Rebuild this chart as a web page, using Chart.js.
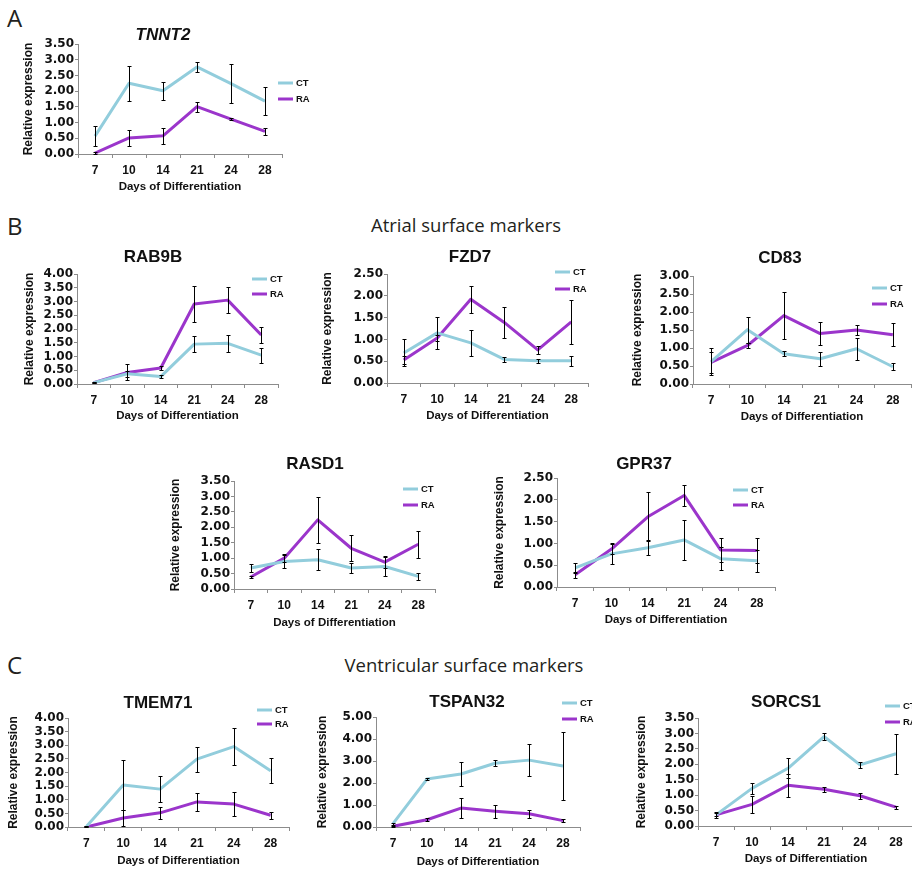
<!DOCTYPE html>
<html><head><meta charset="utf-8">
<script src="https://cdn.jsdelivr.net/npm/chart.js@4.4.1/dist/chart.umd.min.js"></script>
<style>
html,body{margin:0;padding:0;background:#fff;}
#page{position:relative;width:912px;height:869px;overflow:hidden;background:#fff;}
canvas{position:absolute;}
.lbl{position:absolute;font-family:'Open Sans','Noto Sans',sans-serif;color:#231f20;white-space:nowrap;line-height:1;}
.sec{font-size:24px;transform:translateY(-50%);}
.head{font-size:18.5px;transform:translate(-50%,-50%);}
</style></head><body><div id="page">
<div class="lbl sec" style="left:7px;top:18px;">A</div>
<div class="lbl sec" style="left:7px;top:226px;">B</div>
<div class="lbl sec" style="left:7px;top:665px;">C</div>
<div class="lbl head" style="left:466px;top:225px;">Atrial surface markers</div>
<div class="lbl head" style="left:464px;top:665px;">Ventricular surface markers</div>
</div>
<script>
// ---------- data ----------
const days = ['7','10','14','21','24','28'];

const tnnt2CT    = [0.57, 2.25, 2.01, 2.77, 2.24, 1.68];
const tnnt2CTerr = [0.33, 0.55, 0.29, 0.15, 0.62, 0.45];
const tnnt2RA    = [0.03, 0.51, 0.58, 1.51, 1.11, 0.72];
const tnnt2RAerr = [0.02, 0.25, 0.26, 0.16, 0.02, 0.10];

const rab9bCT    = [0.05, 0.37, 0.27, 1.45, 1.48, 1.05];
const rab9bCTerr = [0.02, 0.12, 0.04, 0.29, 0.31, 0.27];
const rab9bRA    = [0.05, 0.42, 0.58, 2.91, 3.05, 1.78];
const rab9bRAerr = [0.02, 0.29, 0.06, 0.67, 0.48, 0.30];

const fzd7CT     = [0.69, 1.15, 0.92, 0.54, 0.51, 0.51];
const fzd7CTerr  = [0.31, 0.37, 0.30, 0.06, 0.05, 0.12];
const fzd7RA     = [0.53, 1.03, 1.92, 1.39, 0.76, 1.40];
const fzd7RAerr  = [0.10, 0.06, 0.31, 0.36, 0.09, 0.51];

const cd83CT     = [0.62, 1.51, 0.84, 0.70, 0.98, 0.48];
const cd83CTerr  = [0.38, 0.36, 0.07, 0.20, 0.30, 0.10];
const cd83RA     = [0.60, 1.07, 1.90, 1.40, 1.50, 1.37];
const cd83RAerr  = [0.30, 0.08, 0.65, 0.32, 0.13, 0.32];

const rasd1CT    = [0.68, 0.89, 0.95, 0.68, 0.73, 0.41];
const rasd1CTerr = [0.14, 0.22, 0.35, 0.16, 0.31, 0.12];
const rasd1RA    = [0.39, 1.00, 2.24, 1.32, 0.87, 1.45];
const rasd1RAerr = [0.04, 0.13, 0.74, 0.42, 0.20, 0.44];

const gpr37CT    = [0.44, 0.76, 0.90, 1.08, 0.65, 0.60];
const gpr37CTerr = [0.12, 0.24, 0.17, 0.45, 0.26, 0.25];
const gpr37RA    = [0.28, 0.87, 1.61, 2.10, 0.85, 0.84];
const gpr37RAerr = [0.07, 0.12, 0.56, 0.25, 0.28, 0.28];

const tmem71CT    = [0.02, 1.54, 1.39, 2.49, 2.95, 2.06];
const tmem71CTerr = [0.03, 0.91, 0.49, 0.46, 0.68, 0.46];
const tmem71RA    = [0.00, 0.33, 0.52, 0.92, 0.84, 0.43];
const tmem71RAerr = [0.02, 0.28, 0.23, 0.33, 0.43, 0.12];

const tspan32CT    = [0.15, 2.18, 2.41, 2.90, 3.04, 2.77];
const tspan32CTerr = [0.05, 0.06, 0.56, 0.14, 0.74, 1.56];
const tspan32RA    = [0.03, 0.33, 0.86, 0.72, 0.60, 0.29];
const tspan32RAerr = [0.02, 0.06, 0.45, 0.30, 0.18, 0.07];

const sorcs1CT    = [0.36, 1.22, 1.87, 2.90, 1.98, 2.34];
const sorcs1CTerr = [0.10, 0.17, 0.33, 0.11, 0.10, 0.65];
const sorcs1RA    = [0.36, 0.70, 1.32, 1.19, 0.98, 0.61];
const sorcs1RAerr = [0.05, 0.27, 0.38, 0.08, 0.10, 0.05];

// ---------- layout (page pixel positions) ----------
const layout = {
  TNNT2:  {L:78,  R:282, T:44,  B:154, max:3.5, step:0.5, tx:163, ty:35,  italic:true, lx:278, lyCT:83,  lyRA:99,  yTitleX:29,  xTitleY:187},
  RAB9B:  {L:77,  R:278, T:274, B:384, max:4,   step:0.5, tx:153, ty:257, lx:252, lyCT:279, lyRA:294, yTitleX:30,  xTitleY:416},
  FZD7:   {L:387, R:588, T:274, B:383, max:2.5, step:0.5, tx:470, ty:257, lx:555, lyCT:272, lyRA:289, yTitleX:328, xTitleY:416},
  CD83:   {L:693, R:911, T:276, B:384, max:3,   step:0.5, tx:780, ty:258, lx:872, lyCT:288, lyRA:304, yTitleX:638, xTitleY:417},
  RASD1:  {L:234, R:435, T:481, B:589, max:3.5, step:0.5, tx:315, ty:464, lx:403, lyCT:489, lyRA:505, yTitleX:176, xTitleY:623},
  GPR37:  {L:557, R:775, T:478, B:587, max:2.5, step:0.5, tx:644, ty:464, lx:733, lyCT:490, lyRA:505, yTitleX:500, xTitleY:620},
  TMEM71: {L:68,  R:289, T:718, B:827, max:4,   step:0.5, tx:158, ty:703, lx:257, lyCT:710, lyRA:724, yTitleX:14,  xTitleY:861},
  TSPAN32:{L:376, R:580, T:717, B:827, max:5,   step:1,   tx:467, ty:702, lx:562, lyCT:703, lyRA:719, yTitleX:323, xTitleY:862},
  SORCS1: {L:698, R:914, T:718, B:826, max:3.5, step:0.5, tx:786, ty:702, lx:885, lyCT:706, lyRA:722, yTitleX:642, xTitleY:859}
};

const CT_COLOR = '#92CDDC';
const RA_COLOR = '#9B35CB';
const AXIS = '#8c8c8c';
const TXT = '#111';
const ARIAL = "'Liberation Sans', Arial, sans-serif";
const DEJAVU = "'DejaVu Sans', sans-serif";

const errPlugin = {
  id:'errbars',
  afterDatasetsDraw(chart){
    const ctx = chart.ctx, ys = chart.scales.y;
    ctx.save();
    ctx.strokeStyle = '#000'; ctx.lineWidth = 1;
    chart.data.datasets.forEach((ds, i) => {
      const meta = chart.getDatasetMeta(i);
      ds.data.forEach((v, j) => {
        const e = ds.err[j];
        const x = Math.round(meta.data[j].x) + 0.5;
        const y1 = Math.round(ys.getPixelForValue(v + e)) + 0.5;
        const y2 = Math.round(ys.getPixelForValue(Math.max(v - e, ys.min))) + 0.5;
        ctx.beginPath();
        ctx.moveTo(x, y1); ctx.lineTo(x, y2);
        ctx.moveTo(x - 2, y1); ctx.lineTo(x + 2, y1);
        ctx.moveTo(x - 2, y2); ctx.lineTo(x + 2, y2);
        ctx.stroke();
      });
    });
    ctx.restore();
  }
};

function decorPlugin(name, g, cx, cy){
  return {
    id:'decor',
    afterDraw(chart){
      const ctx = chart.ctx;
      ctx.save();
      ctx.fillStyle = TXT;
      ctx.textAlign = 'center'; ctx.textBaseline = 'middle';
      ctx.font = (g.italic ? 'italic ' : '') + 'bold 17px ' + ARIAL;
      ctx.fillText(name, g.tx - cx, g.ty - cy);
      // legend
      const items = [['CT', CT_COLOR, g.lyCT], ['RA', RA_COLOR, g.lyRA]];
      ctx.font = 'bold 9.5px ' + ARIAL;
      ctx.textAlign = 'left';
      items.forEach(([t, c, y]) => {
        ctx.strokeStyle = c; ctx.lineWidth = 3;
        ctx.beginPath(); ctx.moveTo(g.lx - cx, y - cy); ctx.lineTo(g.lx + 15 - cx, y - cy); ctx.stroke();
        ctx.fillText(t, g.lx + 18 - cx, y - cy + 0.5);
      });
      ctx.restore();
    }
  };
}

const page = document.getElementById('page');

function makeChart(name, ct, ctErr, ra, raErr){
  const g = layout[name];
  const W_Y = 70, PAD_T = 45, H_X = 50, PAD_R = 70;
  const cw = W_Y + (g.R - g.L) + PAD_R;
  const ch = PAD_T + (g.B - g.T) + H_X;
  const cx = g.L - W_Y, cy = g.T - PAD_T;
  const cv = document.createElement('canvas');
  cv.width = cw; cv.height = ch;
  cv.style.left = cx + 'px'; cv.style.top = cy + 'px';
  cv.style.width = cw + 'px'; cv.style.height = ch + 'px';
  page.appendChild(cv);
  const lhY = 12 * 1.2, lhX = 11.5 * 1.2;
  new Chart(cv.getContext('2d'), {
    type:'line',
    data:{labels: days, datasets:[
      {label:'CT', data: ct, err: ctErr, borderColor: CT_COLOR, backgroundColor: CT_COLOR, borderWidth:3, pointRadius:0, tension:0, borderJoinStyle:'round'},
      {label:'RA', data: ra, err: raErr, borderColor: RA_COLOR, backgroundColor: RA_COLOR, borderWidth:3, pointRadius:0, tension:0, borderJoinStyle:'round'}
    ]},
    options:{
      responsive:false, animation:false, devicePixelRatio:1,
      layout:{padding:{left:0, top:PAD_T, right:PAD_R, bottom:0}},
      plugins:{legend:{display:false}, tooltip:{enabled:false}, title:{display:false}},
      events:[],
      scales:{
        x:{
          type:'category', offset:true,
          grid:{offset:true, drawOnChartArea:false, drawTicks:true, tickLength:4, color:AXIS},
          border:{display:true, color:AXIS, width:1},
          ticks:{font:{family:ARIAL, weight:'bold', size:12}, color:TXT, padding:5, maxRotation:0, autoSkip:false},
          title:{display:true, text:'Days of Differentiation', color:TXT,
                 font:{family:ARIAL, weight:'bold', size:11.5},
                 padding:{top:0, bottom: g.B + H_X - lhX/2 - g.xTitleY}},
          afterFit(s){ s.height = H_X; }
        },
        y:{
          min:0, max:g.max,
          grid:{drawOnChartArea:false, drawTicks:true, tickLength:3, color:AXIS},
          border:{display:true, color:AXIS, width:1},
          ticks:{stepSize:g.step, autoSkip:false, callback:v => Number(v).toFixed(2), font:{family:DEJAVU, weight:'bold', size:12}, color:TXT, padding:1},
          title:{display:true, text:'Relative expression', color:TXT,
                 font:{family:ARIAL, weight:'bold', size:12},
                 padding:{top: g.yTitleX - g.L + W_Y - lhY/2, bottom:0}},
          afterFit(s){ s.width = W_Y; }
        }
      }
    },
    plugins:[errPlugin, decorPlugin(name, g, cx, cy)]
  });
}

makeChart('TNNT2', tnnt2CT, tnnt2CTerr, tnnt2RA, tnnt2RAerr);
makeChart('RAB9B', rab9bCT, rab9bCTerr, rab9bRA, rab9bRAerr);
makeChart('FZD7', fzd7CT, fzd7CTerr, fzd7RA, fzd7RAerr);
makeChart('CD83', cd83CT, cd83CTerr, cd83RA, cd83RAerr);
makeChart('RASD1', rasd1CT, rasd1CTerr, rasd1RA, rasd1RAerr);
makeChart('GPR37', gpr37CT, gpr37CTerr, gpr37RA, gpr37RAerr);
makeChart('TMEM71', tmem71CT, tmem71CTerr, tmem71RA, tmem71RAerr);
makeChart('TSPAN32', tspan32CT, tspan32CTerr, tspan32RA, tspan32RAerr);
makeChart('SORCS1', sorcs1CT, sorcs1CTerr, sorcs1RA, sorcs1RAerr);
</script>
</body></html>
